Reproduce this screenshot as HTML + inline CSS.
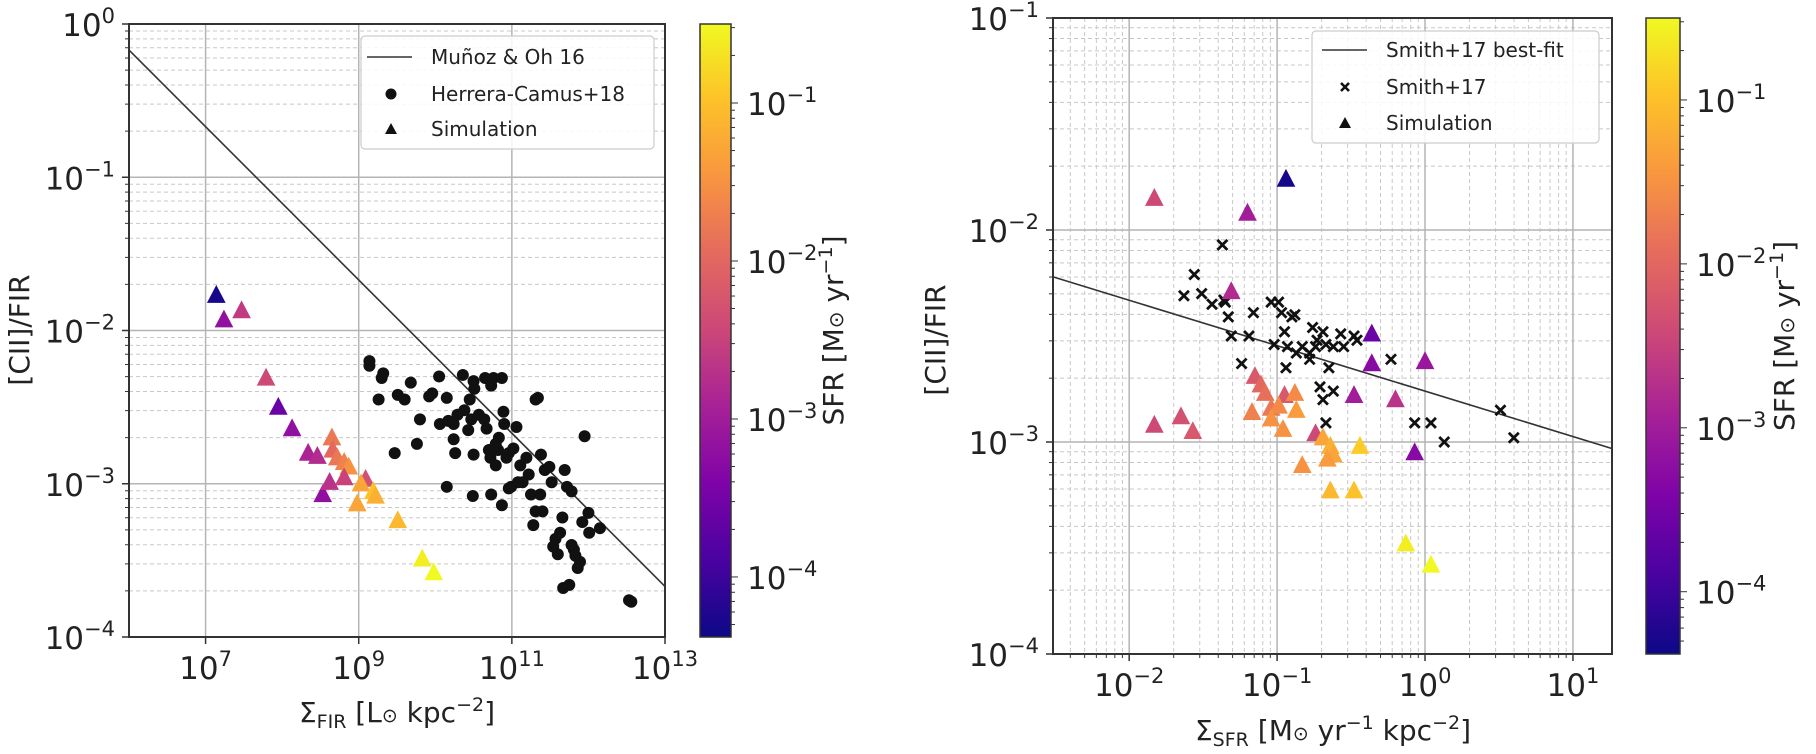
<!DOCTYPE html>
<html><head><meta charset="utf-8"><style>
html,body{margin:0;padding:0;background:#fff;}
svg{display:block;font-family:"DejaVu Sans","Liberation Sans",sans-serif;}
</style></head><body>
<svg id="fig" width="1816" height="754" viewBox="0 0 1816 754" xmlns="http://www.w3.org/2000/svg">
<defs>
<linearGradient id="plasma" x1="0" y1="1" x2="0" y2="0">
<stop offset="0" stop-color="#0d0887"/><stop offset="0.13" stop-color="#4c02a1"/><stop offset="0.25" stop-color="#7e03a8"/><stop offset="0.38" stop-color="#a82296"/><stop offset="0.5" stop-color="#cc4778"/><stop offset="0.63" stop-color="#e56b5d"/><stop offset="0.75" stop-color="#f89540"/><stop offset="0.88" stop-color="#fdc328"/><stop offset="1" stop-color="#f0f921"/>
</linearGradient>
</defs>
</svg>
<script>
// ---- Left panel data (log10 values) ----
const herreraLogFIR = [9.14,9.14,9.32,9.30,9.26,9.47,9.68,9.51,9.60,9.80,9.76,9.92,9.96,10.05,10.15,10.06,10.17,10.24,10.24,10.26,10.29,10.36,10.38,10.45,10.47,10.50,10.57,10.65,10.67,10.70,10.72,10.73,10.76,10.82,10.83,10.87,10.89,10.90,10.93,10.96,10.99,11.02,11.06,11.11,11.19,11.22,11.25,11.28,11.31,11.34,11.37,11.38,11.40,11.43,11.49,11.52,11.54,11.57,11.60,11.63,11.66,11.67,11.69,11.72,11.75,11.78,11.81,11.83,11.86,11.89,11.92,11.95,12.00,12.01,12.15,10.15,10.49,10.73,10.87,10.96,10.50,10.79,11.14,11.31,11.78,12.53,12.56,10.64,10.51,10.43,10.79,11.08];
const herreraLogRatio = [-2.20,-2.23,-2.28,-2.31,-2.45,-2.80,-2.34,-2.42,-2.45,-2.58,-2.74,-2.43,-2.41,-2.30,-2.44,-2.61,-2.59,-2.61,-2.71,-2.80,-2.55,-2.29,-2.52,-2.45,-2.58,-2.33,-2.55,-2.31,-2.64,-2.78,-2.83,-2.36,-2.31,-2.78,-2.70,-2.31,-2.53,-2.61,-2.83,-2.80,-3.02,-2.77,-2.63,-2.88,-2.83,-2.94,-3.07,-3.27,-2.45,-2.44,-3.07,-2.81,-3.18,-2.91,-2.89,-2.99,-3.41,-3.36,-3.46,-3.32,-3.22,-3.68,-2.91,-3.02,-3.66,-3.40,-3.43,-3.47,-3.55,-3.51,-3.25,-2.69,-3.19,-3.32,-3.29,-3.02,-3.08,-3.07,-3.14,-3.03,-2.81,-2.74,-2.99,-3.18,-3.05,-3.76,-3.77,-2.58,-2.38,-2.65,-2.88,-2.99];
const simLeftLogFIR = [7.14,7.24,7.47,7.79,7.95,8.13,8.34,8.46,8.53,8.62,8.65,8.66,8.72,8.81,8.87,8.81,9.09,9.03,8.98,9.19,9.22,9.51,9.83,9.98];
const simLeftLogRatio = [-1.77,-1.93,-1.87,-2.31,-2.50,-2.64,-2.80,-2.82,-3.07,-2.99,-2.70,-2.78,-2.83,-2.86,-2.89,-2.96,-2.97,-3.00,-3.13,-3.05,-3.08,-3.24,-3.49,-3.58];
const simLeftLogSFR = [-4.3,-3.2,-2.6,-2.4,-3.6,-3.2,-2.9,-2.8,-3.2,-2.7,-1.8,-2.0,-1.8,-1.7,-1.5,-2.5,-2.3,-1.3,-1.3,-1.0,-1.2,-1.1,-0.6,-0.5];
const munozLogX = [6, 13];
const munozLogY = [-0.17, -3.67];
// ---- Right panel data (log10 values) ----
const smithLogSFRD = [-1.37,-1.56,-1.63,-1.51,-1.44,-1.35,-1.33,-1.31,-1.19,-1.16,-1.24,-1.04,-1.02,-0.99,-0.97,-0.95,-0.94,-0.93,-0.88,-0.87,-0.83,-0.78,-0.76,-0.74,-0.73,-0.69,-0.67,-0.65,-0.62,-0.57,-0.55,-0.48,-0.46,-0.71,-0.69,-0.62,-0.67,-0.23,-0.07,0.04,0.13,0.51,0.60,-1.36,-0.78,-0.90];
const smithLogRatio = [-2.07,-2.21,-2.31,-2.30,-2.35,-2.34,-2.41,-2.50,-2.50,-2.39,-2.63,-2.34,-2.54,-2.34,-2.39,-2.48,-2.65,-2.55,-2.40,-2.58,-2.55,-2.58,-2.46,-2.55,-2.52,-2.48,-2.54,-2.65,-2.55,-2.49,-2.55,-2.50,-2.52,-2.74,-2.80,-2.76,-2.91,-2.61,-2.91,-2.91,-3.00,-2.85,-2.98,-2.33,-2.61,-2.41];
const simRightLogSFRD = [-1.83,-1.20,-0.94,-1.31,-0.36,-0.36,0.00,-1.15,-1.11,-1.08,-0.95,-0.88,-0.48,-0.20,-1.17,-1.04,-0.87,-0.99,-1.04,-0.96,-1.83,-1.65,-1.57,-0.74,-0.69,-0.64,-0.62,-0.66,-0.44,-0.07,-0.83,-0.64,-0.48,-0.13,0.04];
const simRightLogRatio = [-1.85,-1.92,-1.76,-2.29,-2.49,-2.63,-2.62,-2.69,-2.73,-2.77,-2.78,-2.77,-2.78,-2.80,-2.86,-2.84,-2.85,-2.83,-2.89,-2.94,-2.92,-2.88,-2.95,-2.96,-2.98,-3.02,-3.06,-3.08,-3.02,-3.05,-3.11,-3.23,-3.23,-3.48,-3.58];
const simRightLogSFR = [-2.4,-3.0,-4.3,-2.8,-3.6,-3.3,-3.1,-2.2,-2.0,-1.9,-2.2,-1.6,-3.0,-2.7,-1.7,-1.8,-1.4,-1.6,-1.5,-1.5,-2.4,-2.3,-2.2,-2.4,-1.3,-1.2,-1.3,-1.4,-0.9,-3.3,-1.5,-1.1,-1.0,-0.6,-0.5];
const smithFitLogX = [-2.52, 1.26];
const smithFitLogY = [-2.22, -3.03];
// ticks
const leftXTickExp = ["7","9","11","13"];
const leftYTickExp = ["0","−1","−2","−3","−4"];
const rightXTickExp = ["−2","−1","0","1"];
const rightYTickExp = ["−1","−2","−3","−4"];
const cbarTickExp = ["−1","−2","−3","−4"];

const NS='http://www.w3.org/2000/svg';
const svg=document.getElementById('fig');
function mk(tag,attrs,parent){const e=document.createElementNS(NS,tag);for(const k in attrs)e.setAttribute(k,attrs[k]);(parent||svg).appendChild(e);return e;}
function plasma(t){
  const s=[[13,8,135],[76,2,161],[126,3,168],[168,34,150],[204,71,120],[229,107,93],[248,149,64],[253,195,40],[240,249,33]];
  t=Math.max(0,Math.min(1,t));const p=t*8,i=Math.min(7,Math.floor(p)),f=p-i;
  const c=s[i].map((v,k)=>Math.round(v+(s[i+1][k]-v)*f));return `rgb(${c[0]},${c[1]},${c[2]})`;
}
const cmin=-4.38,cmax=-0.5;
function sfrColor(v){return plasma((v-cmin)/(cmax-cmin));}
function powLabel(g,x,y,exp,anchor){
  const t=mk('text',{x:x,y:y,'font-size':31,fill:'#222','text-anchor':anchor},g);
  t.appendChild(document.createTextNode('10'));
  const s=mk('tspan',{dy:-13,'font-size':21},t);s.textContent=exp;
  return t;
}
function panel(cfg){
  const g=mk('g',{});
  
  
  const X=v=>cfg.x0+(v-cfg.xmin)/(cfg.xmax-cfg.xmin)*(cfg.x1-cfg.x0);
  const Y=v=>cfg.y1-(v-cfg.ymin)/(cfg.ymax-cfg.ymin)*(cfg.y1-cfg.y0);
  cfg.X=X;cfg.Y=Y;
  for(let d=Math.floor(cfg.ymin);d<cfg.ymax;d++)for(let m=2;m<10;m++){const v=d+Math.log10(m);if(v<=cfg.ymin||v>=cfg.ymax)continue;
    const l=mk('line',{x1:cfg.x0,x2:cfg.x1,y1:Y(v),y2:Y(v),stroke:'#c8c8c8','stroke-width':1,'stroke-dasharray':'4,3'},g);
    
    mk('line',{x1:cfg.x0-4,x2:cfg.x0,y1:Y(v),y2:Y(v),stroke:'#333','stroke-width':1},g);}
  if(cfg.minorX)for(let d=Math.floor(cfg.xmin);d<cfg.xmax;d++)for(let m=2;m<10;m++){const v=d+Math.log10(m);if(v<=cfg.xmin||v>=cfg.xmax)continue;
    const l=mk('line',{x1:X(v),x2:X(v),y1:cfg.y0,y2:cfg.y1,stroke:'#c8c8c8','stroke-width':1,'stroke-dasharray':'4,3'},g);
    
    mk('line',{x1:X(v),x2:X(v),y1:cfg.y1,y2:cfg.y1+4,stroke:'#333','stroke-width':1},g);}
  cfg.xt.forEach(e=>{const v=parseFloat(e.replace('−','-'));const l=mk('line',{x1:X(v),x2:X(v),y1:cfg.y0,y2:cfg.y1,stroke:'#b4b4b4','stroke-width':1.5},g);
    
    mk('line',{x1:X(v),x2:X(v),y1:cfg.y1,y2:cfg.y1+7,stroke:'#333','stroke-width':1.5},g);
    const t=powLabel(g,X(v),cfg.y1+42,e,'middle');});
  cfg.yt.forEach(e=>{const v=parseFloat(e.replace('−','-'));const l=mk('line',{x1:cfg.x0,x2:cfg.x1,y1:Y(v),y2:Y(v),stroke:'#b4b4b4','stroke-width':1.5},g);
    
    mk('line',{x1:cfg.x0-7,x2:cfg.x0,y1:Y(v),y2:Y(v),stroke:'#333','stroke-width':1.5},g);
    const t=powLabel(g,cfg.x0-14,Y(v)+12,e,'end');});
  const fr=mk('rect',{x:cfg.x0,y:cfg.y0,width:cfg.x1-cfg.x0,height:cfg.y1-cfg.y0,fill:'none',stroke:'#333','stroke-width':2},g);
  
  return g;
}
function tri(g,cx,cy,col,s){const p=mk('polygon',{points:`${cx},${cy-s*0.6} ${cx-s*0.55},${cy+s*0.45} ${cx+s*0.55},${cy+s*0.45}`,fill:col},g);return p;}
function cross(g,cx,cy,s){const c=mk('path',{d:`M${cx-s},${cy-s}L${cx+s},${cy+s}M${cx-s},${cy+s}L${cx+s},${cy-s}`,stroke:'#111','stroke-width':2.8,fill:'none'},g);return c;}
function colorbar(x0,x1,y0,y1,lx,name){
  const g=mk('g',{});
  mk('rect',{x:x0,y:y0,width:x1-x0,height:y1-y0,fill:'url(#plasma)',stroke:'#333','stroke-width':1.5},g);
  const Y=v=>y1-(v-cmin)/(cmax-cmin)*(y1-y0);
  for(let d=-5;d<0;d++)for(let m=1;m<10;m++){const v=d+Math.log10(m);if(v<cmin||v>cmax)continue;
    mk('line',{x1:x1,x2:x1+(m===1?7:4),y1:Y(v),y2:Y(v),stroke:'#333','stroke-width':1},g);}
  cbarTickExp.forEach(e=>{const v=parseFloat(e.replace('−','-'));const t=powLabel(g,x1+16,Y(v)+12,e,'start');
    });
  const lb=mk('text',{x:0,y:0,'font-size':28,fill:'#222','text-anchor':'middle',transform:`translate(${lx},${(y0+y1)/2}) rotate(-90)`},g);
  lb.innerHTML='SFR [M<tspan font-size="20">⊙</tspan> yr<tspan dy="-11" font-size="19">−1</tspan><tspan dy="11">]</tspan>';
  
}
const L={name:'left-panel',x0:129,x1:665,y0:24,y1:637,xmin:6,xmax:13,ymin:-4,ymax:0,xt:leftXTickExp,yt:leftYTickExp,minorX:false};
const gl=panel(L);
{const l=mk('line',{x1:L.X(munozLogX[0]),y1:L.Y(munozLogY[0]),x2:L.X(munozLogX[1]),y2:L.Y(munozLogY[1]),stroke:'#333','stroke-width':1.6},gl);
 }
herreraLogFIR.forEach((v,i)=>{const c=mk('circle',{cx:L.X(v),cy:L.Y(herreraLogRatio[i]),r:6,fill:'#111'},gl);
  });
simLeftLogFIR.forEach((v,i)=>{const t=tri(gl,L.X(v),L.Y(simLeftLogRatio[i]),sfrColor(simLeftLogSFR[i]),17);
  });
const R={name:'right-panel',x0:1053,x1:1612,y0:18,y1:654,xmin:-2.515,xmax:1.264,ymin:-4,ymax:-1,xt:rightXTickExp,yt:rightYTickExp,minorX:true};
const gr=panel(R);
{const l=mk('line',{x1:R.X(smithFitLogX[0]),y1:R.Y(smithFitLogY[0]),x2:R.X(smithFitLogX[1]),y2:R.Y(smithFitLogY[1]),stroke:'#333','stroke-width':1.6},gr);
 }
smithLogSFRD.forEach((v,i)=>{const c=cross(gr,R.X(v),R.Y(smithLogRatio[i]),5);
  });
simRightLogSFRD.forEach((v,i)=>{const t=tri(gr,R.X(v),R.Y(simRightLogRatio[i]),sfrColor(simRightLogSFR[i]),17);
  });
colorbar(700,731,24,637,843,'left-colorbar');
colorbar(1646,1680,18,654,1794,'right-colorbar');
</script>
<script>
(function(){
const NS='http://www.w3.org/2000/svg';const svg=document.getElementById('fig');
const add=(html)=>{const g=document.createElementNS(NS,'g');g.innerHTML=html;svg.appendChild(g);};
add(`<text transform="translate(29,330) rotate(-90)" text-anchor="middle" font-size="28" fill="#222">[CII]/FIR</text>
<text x="397" y="722" text-anchor="middle" font-size="28" fill="#222">Σ<tspan font-size="19" dy="6">FIR</tspan><tspan dy="-6"> [L</tspan><tspan font-size="19">⊙</tspan> kpc<tspan dy="-11" font-size="19">−2</tspan><tspan dy="11">]</tspan></text>
<text transform="translate(945,340) rotate(-90)" text-anchor="middle" font-size="28" fill="#222">[CII]/FIR</text>
<text x="1333" y="740" text-anchor="middle" font-size="28" fill="#222">Σ<tspan font-size="19" dy="6">SFR</tspan><tspan dy="-6"> [M</tspan><tspan font-size="19">⊙</tspan> yr<tspan dy="-11" font-size="19">−1</tspan><tspan dy="11"> kpc</tspan><tspan dy="-11" font-size="19">−2</tspan><tspan dy="11">]</tspan></text>
<g>
<rect x="361" y="36" width="293" height="113" rx="4" fill="#fff" fill-opacity="0.85" stroke="#ccc" stroke-width="1.2"/>
<line x1="367" y1="57" x2="412" y2="57" stroke="#333" stroke-width="1.6"/>
<text x="431" y="64" font-size="20" fill="#222">Muñoz &amp; Oh 16</text>
<circle cx="391" cy="94" r="5.5" fill="#111"/>
<text x="431" y="101" font-size="20" fill="#222">Herrera-Camus+18</text>
<polygon points="391,123 385,134 397,134" fill="#111"/>
<text x="431" y="136" font-size="20" fill="#222">Simulation</text>
</g>
<g>
<rect x="1312" y="31" width="287" height="112" rx="4" fill="#fff" fill-opacity="0.85" stroke="#ccc" stroke-width="1.2"/>
<line x1="1322" y1="50" x2="1367" y2="50" stroke="#333" stroke-width="1.6"/>
<text x="1386" y="57" font-size="20" fill="#222">Smith+17 best-fit</text>
<path d="M1341,83L1349,91M1341,91L1349,83" stroke="#111" stroke-width="2.6"/>
<text x="1386" y="94" font-size="20" fill="#222">Smith+17</text>
<polygon points="1345,117 1339,128 1351,128" fill="#111"/>
<text x="1386" y="130" font-size="20" fill="#222">Simulation</text>
</g>`);
})();
</script>
</body></html>
